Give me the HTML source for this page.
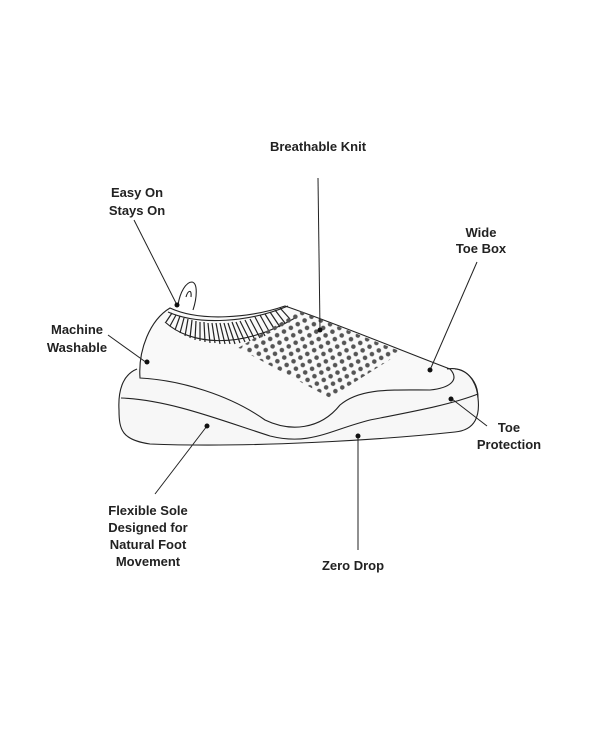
<!DOCTYPE html>
<html><head><style>
body{margin:0;background:#fff;}
svg text{font-family:"Liberation Sans",sans-serif;font-size:13px;font-weight:bold;fill:#222;text-anchor:middle;}
</style></head><body>
<svg width="600" height="730" viewBox="0 0 600 730" xmlns="http://www.w3.org/2000/svg">
<defs>
<pattern id="dots" width="10" height="12" patternUnits="userSpaceOnUse" patternTransform="rotate(22)">
<circle cx="2.5" cy="3" r="2.3" fill="#555"/>
<circle cx="7.5" cy="9" r="2.3" fill="#555"/>
</pattern>
<clipPath id="dc"><polygon points="238,348 300,311 402,352 330,398"/></clipPath>
</defs>
<g fill="none" stroke="#222" stroke-width="1.1">
<path d="M137,369 C122,375 118,392 119,410 C119,430 122,440 150,444 C250,448 380,440 455,432 C476,430 480,415 478,398 C477,385 470,370 455,369" fill="#f7f7f7"/>
<path d="M140,378 C138,350 150,320 170,308 C200,322 250,318 285,306 C340,325 400,350 450,369 C460,380 450,388 430,390 C390,390 360,388 340,405 C320,430 290,432 265,420 C230,395 180,380 140,378 Z" fill="#f9f9f9"/>
<path d="M447,369 C465,366 478,380 478,398"/>
<path d="M121,398 C170,400 220,420 270,436 C310,446 330,430 370,420 C410,412 450,405 478,394"/>
<path d="M178,305 C180,292 186,282 192,282 C198,283 197,298 193,310" fill="#fff"/>
<path d="M186,297 C188,290 192,289 191,297"/>
<path d="M168,312 C200,326 250,322 288,306"/>
<path d="M165,322 C190,345 240,350 295,318"/>
</g>
<g stroke="#222" stroke-width="1.2">
<line x1="172" y1="313" x2="166" y2="322"/><line x1="176" y1="315" x2="170" y2="326"/><line x1="180" y1="316" x2="175" y2="330"/><line x1="184" y1="318" x2="180" y2="333"/><line x1="188" y1="319" x2="185" y2="336"/><line x1="192" y1="320" x2="190" y2="338"/><line x1="196" y1="321" x2="195" y2="340"/><line x1="200" y1="322" x2="200" y2="341"/><line x1="204" y1="322" x2="205" y2="342"/><line x1="208" y1="323" x2="210" y2="343"/><line x1="212" y1="323" x2="215" y2="343"/><line x1="216" y1="323" x2="220" y2="344"/><line x1="220" y1="323" x2="225" y2="344"/><line x1="224" y1="323" x2="230" y2="344"/><line x1="228" y1="323" x2="235" y2="344"/><line x1="232" y1="322" x2="240" y2="343"/><line x1="236" y1="322" x2="245" y2="342"/><line x1="240" y1="321" x2="250" y2="341"/><line x1="245" y1="320" x2="255" y2="340"/><line x1="250" y1="319" x2="260" y2="338"/><line x1="255" y1="317" x2="265" y2="336"/><line x1="260" y1="315" x2="270" y2="333"/><line x1="265" y1="314" x2="275" y2="330"/><line x1="270" y1="312" x2="280" y2="327"/><line x1="275" y1="310" x2="285" y2="323"/><line x1="280" y1="308" x2="290" y2="319"/>
</g>
<rect x="230" y="300" width="230" height="110" fill="url(#dots)" clip-path="url(#dc)"/>
<g stroke="#222" stroke-width="1">
<line x1="318" y1="178" x2="320" y2="330"/>
<line x1="134" y1="220" x2="177" y2="305"/>
<line x1="477" y1="262" x2="430" y2="370"/>
<line x1="108" y1="335" x2="147" y2="363"/>
<line x1="452" y1="399" x2="487" y2="426"/>
<line x1="207" y1="426" x2="155" y2="494"/>
<line x1="358" y1="436" x2="358" y2="550"/>
</g>
<g fill="#111">
<circle cx="320" cy="330" r="2.5"/><circle cx="177" cy="305" r="2.5"/><circle cx="430" cy="370" r="2.5"/><circle cx="147" cy="362" r="2.5"/><circle cx="451" cy="399" r="2.5"/><circle cx="207" cy="426" r="2.5"/><circle cx="358" cy="436" r="2.5"/>
</g>
<text x="318" y="151">Breathable Knit</text>
<text x="137" y="197">Easy On</text><text x="137" y="215">Stays On</text>
<text x="481" y="237">Wide</text><text x="481" y="253">Toe Box</text>
<text x="77" y="334">Machine</text><text x="77" y="352">Washable</text>
<text x="509" y="432">Toe</text><text x="509" y="449">Protection</text>
<text x="148" y="515">Flexible Sole</text><text x="148" y="532">Designed for</text><text x="148" y="549">Natural Foot</text><text x="148" y="566">Movement</text>
<text x="353" y="570">Zero Drop</text>
</svg>
</body></html>
